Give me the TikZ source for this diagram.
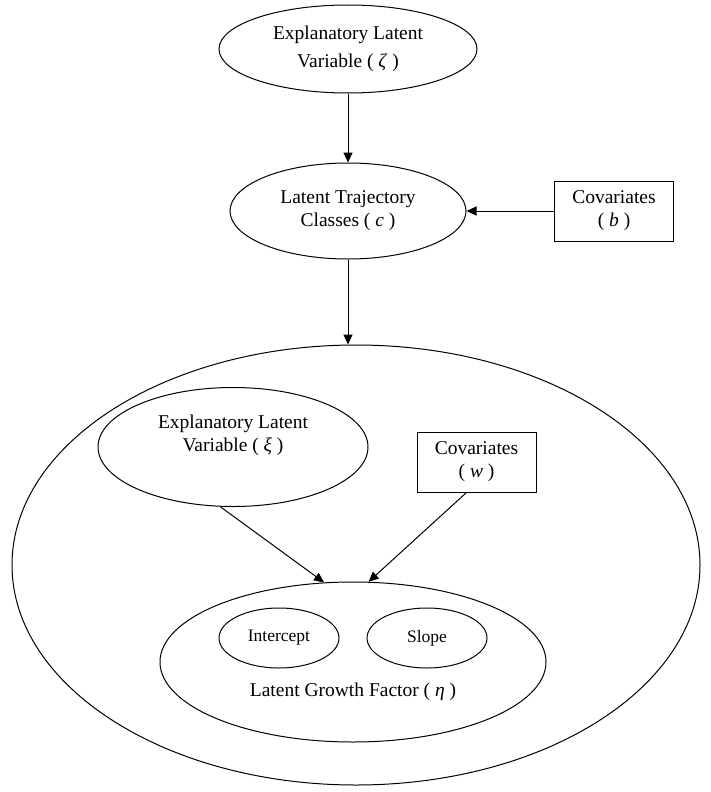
\documentclass[tikz,border=0pt]{standalone}
\usepackage{fontspec}
\setmainfont{Liberation Serif}
\usetikzlibrary{shapes.geometric,arrows.meta}
\begin{document}
\begin{tikzpicture}[x=1pt,y=-1pt,line width=1pt,
  every node/.style={font=\fontsize{19.5}{23}\selectfont, align=center, inner sep=0pt},
  latent/.style={draw, ellipse, inner sep=0pt},
  observed/.style={draw, rectangle, minimum width=119pt, minimum height=60pt},
  factor/.style={latent, minimum width=120pt, minimum height=60pt,
                 font=\fontsize{17.5}{21}\selectfont},
  link/.style={-{Triangle[length=10pt,width=9pt]}}]
\useasboundingbox (0,0) rectangle (711,792);

% between-level part
\node[latent, minimum width=258pt, minimum height=88pt,
      font=\fontsize{19.5}{28.5}\selectfont] (zeta) at (348,49)
  {Explanatory Latent\\Variable ( \textit{ζ} )};
\node[latent, minimum width=236pt, minimum height=96pt] (classes) at (348,211)
  {Latent Trajectory\\Classes ( \textit{c} )};
\node[observed] (covb) at (614,211) {Covariates\\( \textit{b} )};

% within-class part
\node[latent, minimum width=688pt, minimum height=440pt] (within) at (356,565) {};
\node[latent, minimum width=270pt, minimum height=119pt] (xi) at (233,447) {};
\node (xitext) at (233,435) {Explanatory Latent\\Variable ( \textit{ξ} )};
\node[observed] (covw) at (476.5,462) {Covariates\\( \textit{w} )};

\node[latent, minimum width=386pt, minimum height=160pt] (growth) at (353,662) {};
\node (growthtext) at (353,692) {Latent Growth Factor ( \textit{η} )};
\node[factor] (icpt) at (279,638) {Intercept};
\node[factor] (slope) at (427,638) {Slope};

% paths
\draw[link] (zeta) -- (classes);
\draw[link] (covb) -- (classes);
\draw[link] (classes) -- (classes |- within.north);
\draw[link] (xi.-102) -- (growth.110);
\draw[link] ([xshift=-10pt]covw.south) -- (growth.79);
\end{tikzpicture}
\end{document}
